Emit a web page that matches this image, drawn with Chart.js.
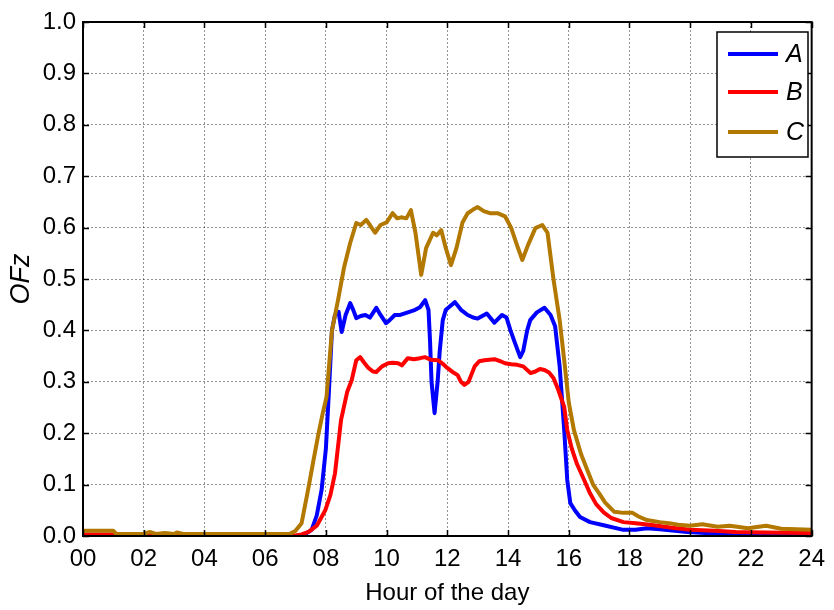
<!DOCTYPE html>
<html>
<head>
<meta charset="utf-8">
<title>OFz by hour</title>
<script src="https://cdn.jsdelivr.net/npm/chart.js@4.4.1/dist/chart.umd.min.js"></script>
<style>
  html, body { margin: 0; padding: 0; background: #fff; }
  #wrap { width: 834px; height: 610px; }
</style>
</head>
<body>
<div id="wrap"><canvas id="ofzChart" width="834" height="610"></canvas></div>
<script>
  // ---- data (hour of day, OFz) ----
  const seriesNames = ['A', 'B', 'C'];
  const seriesColors = ['#0000ff', '#ff0000', '#b27800'];

  const hoursA = [0, 7.0, 7.3, 7.53, 7.7, 7.86, 8.0, 8.09, 8.2, 8.3, 8.42, 8.52, 8.65, 8.8, 8.9, 9.0, 9.15, 9.3, 9.45, 9.66, 9.8, 9.98, 10.1, 10.27, 10.45, 10.6, 10.8, 10.94, 11.1, 11.27, 11.38, 11.43, 11.48, 11.58, 11.68, 11.75, 11.85, 11.95, 12.05, 12.25, 12.45, 12.67, 12.85, 13.0, 13.15, 13.3, 13.55, 13.8, 13.95, 14.08, 14.2, 14.4, 14.5, 14.63, 14.73, 14.95, 15.2, 15.4, 15.55, 15.7, 15.85, 15.95, 16.05, 16.2, 16.37, 16.7, 17.15, 17.8, 18.2, 18.57, 19.0, 19.9, 20.5, 21.1, 21.5, 22, 24];
  const ofzA = [0, 0, 0.003, 0.012, 0.04, 0.09, 0.17, 0.27, 0.4, 0.43, 0.436, 0.397, 0.43, 0.453, 0.44, 0.424, 0.428, 0.43, 0.425, 0.444, 0.43, 0.414, 0.42, 0.43, 0.43, 0.433, 0.437, 0.44, 0.445, 0.459, 0.44, 0.38, 0.3, 0.239, 0.3, 0.36, 0.42, 0.44, 0.445, 0.455, 0.44, 0.43, 0.425, 0.423, 0.428, 0.433, 0.415, 0.43, 0.425, 0.4, 0.38, 0.348, 0.36, 0.4, 0.42, 0.435, 0.444, 0.43, 0.408, 0.33, 0.206, 0.109, 0.064, 0.05, 0.037, 0.027, 0.021, 0.012, 0.012, 0.015, 0.013, 0.008, 0.006, 0.003, 0.001, 0, 0];

  const hoursB = [0, 1.0, 1.1, 6.9, 7.2, 7.43, 7.7, 7.98, 8.15, 8.3, 8.5, 8.7, 8.85, 9.0, 9.13, 9.25, 9.4, 9.55, 9.66, 9.85, 10.05, 10.2, 10.38, 10.5, 10.7, 10.9, 11.1, 11.26, 11.45, 11.69, 11.85, 12.0, 12.2, 12.34, 12.45, 12.56, 12.7, 12.9, 13.05, 13.22, 13.55, 13.75, 13.9, 14.1, 14.3, 14.5, 14.74, 14.9, 15.05, 15.2, 15.35, 15.5, 15.65, 15.85, 15.95, 16.1, 16.27, 16.5, 16.7, 16.9, 17.15, 17.4, 17.8, 18.2, 18.8, 19.4, 20.0, 20.8, 21.5, 22.5, 24];
  const ofzB = [0.003, 0.003, 0, 0, 0.003, 0.008, 0.02, 0.05, 0.08, 0.122, 0.226, 0.28, 0.303, 0.342, 0.348, 0.338, 0.327, 0.32, 0.319, 0.33, 0.336, 0.337, 0.336, 0.332, 0.346, 0.344, 0.346, 0.348, 0.343, 0.342, 0.335, 0.327, 0.318, 0.313, 0.3, 0.294, 0.3, 0.33, 0.34, 0.342, 0.344, 0.34, 0.336, 0.334, 0.333, 0.33, 0.317, 0.32, 0.325, 0.323, 0.318, 0.307, 0.285, 0.251, 0.206, 0.17, 0.14, 0.11, 0.083, 0.062, 0.046, 0.035, 0.027, 0.025, 0.021, 0.016, 0.012, 0.01, 0.008, 0.007, 0.006];

  const hoursC = [0, 0.5, 1.0, 1.1, 2.0, 2.2, 2.4, 2.7, 3.0, 3.1, 3.3, 4, 5, 6, 6.8, 7.0, 7.2, 7.43, 7.6, 7.76, 7.9, 8.02, 8.2, 8.4, 8.6, 8.8, 9.0, 9.15, 9.33, 9.45, 9.62, 9.8, 10.0, 10.2, 10.35, 10.48, 10.65, 10.8, 10.95, 11.14, 11.3, 11.53, 11.65, 11.8, 11.95, 12.12, 12.3, 12.5, 12.67, 12.85, 13.0, 13.2, 13.4, 13.65, 13.9, 14.1, 14.3, 14.47, 14.65, 14.9, 15.13, 15.3, 15.5, 15.7, 15.85, 16.0, 16.17, 16.4, 16.6, 16.8, 17.0, 17.2, 17.5, 17.8, 18.1, 18.3, 18.57, 19.0, 19.3, 19.6, 20.0, 20.4, 20.9, 21.3, 21.9, 22.5, 23.0, 23.5, 24];
  const ofzC = [0.01, 0.01, 0.01, 0.004, 0.004, 0.008, 0.004, 0.006, 0.004, 0.007, 0.004, 0.004, 0.004, 0.004, 0.004, 0.01, 0.025, 0.095, 0.15, 0.2, 0.24, 0.27, 0.4, 0.459, 0.523, 0.57, 0.609, 0.605, 0.615, 0.605, 0.59, 0.605, 0.61, 0.628, 0.618, 0.62, 0.618, 0.634, 0.59, 0.508, 0.56, 0.59, 0.585, 0.595, 0.56, 0.527, 0.56, 0.61, 0.628, 0.635, 0.64, 0.632, 0.628, 0.628, 0.622, 0.6, 0.565, 0.537, 0.565, 0.599, 0.605, 0.59, 0.498, 0.42, 0.342, 0.26, 0.206, 0.16, 0.13, 0.1, 0.083, 0.065, 0.047, 0.045, 0.045, 0.038, 0.031, 0.027, 0.025, 0.022, 0.02, 0.023, 0.018, 0.02, 0.015, 0.02, 0.014, 0.013, 0.012];

  const hourTicks = ['00', '02', '04', '06', '08', '10', '12', '14', '16', '18', '20', '22', '24'];
  const ofzTicks = ['0.0', '0.1', '0.2', '0.3', '0.4', '0.5', '0.6', '0.7', '0.8', '0.9', '1.0'];

  const FONT = "'Liberation Sans', Arial, sans-serif";

  function toPoints(xs, ys) {
    return xs.map((x, i) => ({ x: x, y: ys[i] }));
  }

  // box around the plot with short inward ticks on every side
  const boxPlugin = {
    id: 'matlabBox',
    afterDatasetsDraw(chart) {
      const { ctx, chartArea: a, scales } = chart;
      ctx.save();
      ctx.strokeStyle = '#000';
      ctx.lineWidth = 1.5;
      ctx.beginPath();
      scales.x.ticks.forEach(t => {
        const px = Math.round(scales.x.getPixelForValue(t.value)) + 0.5;
        ctx.moveTo(px, a.bottom); ctx.lineTo(px, a.bottom - 6);
        ctx.moveTo(px, a.top); ctx.lineTo(px, a.top + 6);
      });
      scales.y.ticks.forEach(t => {
        const py = Math.round(scales.y.getPixelForValue(t.value)) + 0.5;
        ctx.moveTo(a.left, py); ctx.lineTo(a.left + 6, py);
        ctx.moveTo(a.right, py); ctx.lineTo(a.right - 6, py);
      });
      ctx.stroke();
      ctx.lineWidth = 2;
      ctx.strokeRect(a.left, a.top, a.right - a.left, a.bottom - a.top);
      ctx.restore();
    }
  };

  // legend box in the upper right corner of the plot
  const legendPlugin = {
    id: 'insideLegend',
    afterDraw(chart) {
      const { ctx } = chart;
      const bx = 717, by = 32, bw = 91, bh = 125;
      ctx.save();
      ctx.fillStyle = '#fff';
      ctx.fillRect(bx, by, bw, bh);
      ctx.strokeStyle = '#000';
      ctx.lineWidth = 1.5;
      ctx.strokeRect(bx, by, bw, bh);
      const rows = [54, 92, 132];
      chart.data.datasets.forEach((ds, i) => {
        ctx.strokeStyle = ds.borderColor;
        ctx.lineWidth = 4;
        ctx.beginPath();
        ctx.moveTo(728, rows[i]);
        ctx.lineTo(778, rows[i]);
        ctx.stroke();
        ctx.fillStyle = '#000';
        ctx.font = 'italic 25px ' + FONT;
        ctx.textBaseline = 'middle';
        ctx.textAlign = 'left';
        ctx.fillText(ds.label, 786, rows[i] + 1);
      });
      ctx.restore();
    }
  };

  const datasets = [
    { label: seriesNames[0], data: toPoints(hoursA, ofzA), borderColor: seriesColors[0], order: 3 },
    { label: seriesNames[1], data: toPoints(hoursB, ofzB), borderColor: seriesColors[1], order: 2 },
    { label: seriesNames[2], data: toPoints(hoursC, ofzC), borderColor: seriesColors[2], order: 1 }
  ].map(ds => Object.assign(ds, {
    borderWidth: 4,
    pointRadius: 0,
    tension: 0,
    fill: false,
    borderJoinStyle: 'round',
    borderCapStyle: 'round'
  }));

  const gridStyle = {
    color: 'rgba(0,0,0,0.42)',
    lineWidth: 1,
    drawTicks: false
  };

  new Chart(document.getElementById('ofzChart'), {
    type: 'line',
    data: { datasets: datasets },
    options: {
      responsive: false,
      animation: false,
      layout: { padding: { left: 0, top: 22, right: 18, bottom: 0 } },
      plugins: { legend: { display: false }, tooltip: { enabled: false } },
      scales: {
        x: {
          type: 'linear',
          min: 0, max: 24,
          afterFit: s => { s.height = 74; },
          afterBuildTicks: s => { s.ticks = hourTicks.map(t => ({ value: Number(t) })); },
          ticks: {
            color: '#000',
            font: { family: FONT, size: 24 },
            padding: 9,
            maxRotation: 0,
            autoSkip: false,
            callback: (v, i) => hourTicks[i]
          },
          grid: gridStyle,
          border: { display: false, dash: [2, 2] },
          title: {
            display: true,
            text: 'Hour of the day',
            color: '#000',
            font: { family: FONT, size: 24 },
            padding: { top: 0, bottom: 2 }
          }
        },
        y: {
          min: 0, max: 1,
          afterFit: s => { s.width = 83; },
          afterBuildTicks: s => { s.ticks = ofzTicks.map(t => ({ value: Number(t) })); },
          ticks: {
            color: '#000',
            font: { family: FONT, size: 24 },
            padding: 7,
            autoSkip: false,
            callback: (v, i) => ofzTicks[i]
          },
          grid: gridStyle,
          border: { display: false, dash: [2, 2] },
          title: {
            display: true,
            text: 'OFz',
            color: '#000',
            font: { family: FONT, size: 27, style: 'italic' },
            padding: { top: 5, bottom: 0 }
          }
        }
      }
    },
    plugins: [boxPlugin, legendPlugin]
  });
</script>
</body>
</html>
